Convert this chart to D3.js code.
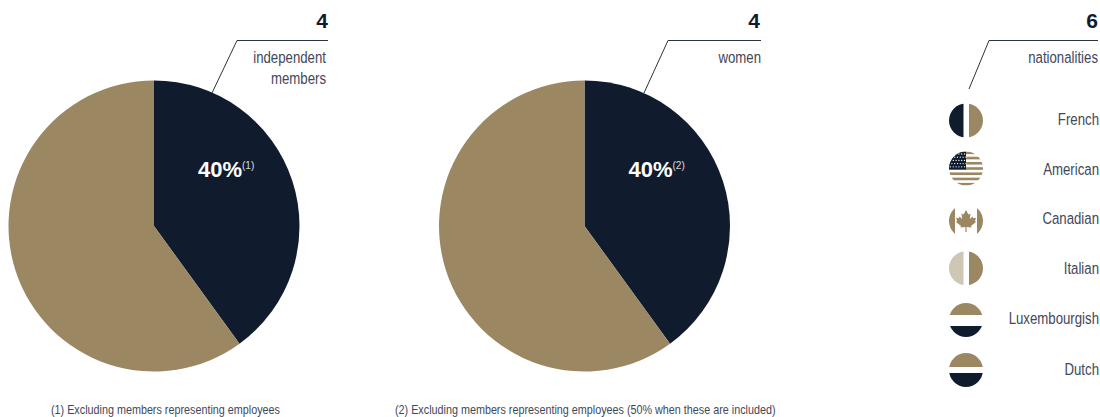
<!DOCTYPE html>
<html>
<head>
<meta charset="utf-8">
<script src="https://cdnjs.cloudflare.com/ajax/libs/d3/7.8.5/d3.min.js"></script>
<style>
  html, body { margin: 0; padding: 0; background: #fff; }
  svg { display: block; }
  text { font-family: "Liberation Sans", sans-serif; fill: #3f4759; }
  .big { font-weight: 700; font-size: 21px; fill: #101c2e; }
  .lbl { font-size: 17px; }
  .note { font-size: 13px; }
  .pct { font-weight: 700; font-size: 22px; fill: #fff; }
  .sup { font-size: 11.5px; fill: #fff; fill-opacity: 0.85; }
</style>
</head>
<body>
<svg id="chart" width="1100" height="417"></svg>
<script>
const NAVY = "#101c2e", GOLD = "#9b8863", PALE = "#cfc7b6";

// Pie shares and their captions
const sliceNames = ["Included", "Other"];
const independentValues = [40, 60];
const womenValues = [40, 60];
const pieCounts = ["4", "4"];
const pieCaptions = [["independent", "members"], ["women"]];
const pieSupers = ["(1)", "(2)"];
const footnotes = [
  "(1) Excluding members representing employees",
  "(2) Excluding members representing employees (50% when these are included)"
];

// Nationalities list
const nationalityCount = "6";
const nationalityCaption = "nationalities";
const nationalities = ["French", "American", "Canadian", "Italian", "Luxembourgish", "Dutch"];
const flagKinds = ["verticalNavy", "stars", "leaf", "verticalPale", "horizontalGap", "horizontalBar"];

// Vertical rhythm of the list
const flagCentres = [120.5, 168.5, 221, 268.3, 320, 370];
const labelBaselines = [125, 175, 224, 274, 324, 375];

// The captions are set in a condensed cut, obtained by squeezing the regular face
const SQUEEZE = 0.778;
const NOTE_SQUEEZE = 0.83;

const svg = d3.select("#chart");
const defs = svg.append("defs");
const color = d3.scaleOrdinal(sliceNames, [NAVY, GOLD]);
const pieLayout = d3.pie().sort(null);
const radius = 145.5;
const arc = d3.arc().innerRadius(0).outerRadius(radius);

function squeezedText(cls, x, y, str, anchor, k) {
  return svg.append("text").attr("class", cls)
    .attr("transform", `translate(${x},${y}) scale(${k},1)`)
    .attr("text-anchor", anchor).text(str);
}

// One pie with its callout
function drawPie(values, cx, i, leader, countRight, captionRight) {
  const g = svg.append("g").attr("transform", `translate(${cx},226)`);
  g.selectAll("path").data(pieLayout(values)).join("path")
    .attr("d", arc)
    .attr("fill", (d, j) => color(sliceNames[j]));
  g.append("text").attr("class", "pct").attr("x", 44).attr("y", -49).text(values[0] + "%");
  g.append("text").attr("class", "sup").attr("transform", "translate(88,-57) scale(0.88,1)").text(pieSupers[i]);
  drawCallout(leader, pieCounts[i], pieCaptions[i], countRight, captionRight);
}

function drawCallout(leader, count, captions, countRight, captionRight) {
  svg.append("path").attr("d", d3.line()(leader))
    .attr("fill", "none").attr("stroke", "#2b3342").attr("stroke-width", 1);
  svg.append("text").attr("class", "big").attr("x", countRight).attr("y", 28)
    .attr("text-anchor", "end").text(count);
  captions.forEach((c, k) => {
    squeezedText("lbl", captionRight, 63 + k * 21, c, "end", SQUEEZE);
  });
}

drawPie(independentValues, 154, 0, [[212, 93], [237, 40.5], [328, 40.5]], 328, 326);
drawPie(womenValues, 584.5, 1, [[644, 93], [668, 40.5], [761, 40.5]], 760, 761);
drawCallout([[969, 89], [989, 40.5], [1098, 40.5]], nationalityCount, [nationalityCaption], 1098, 1098);

// Footnotes
squeezedText("note", 51, 414, footnotes[0], "start", NOTE_SQUEEZE);
squeezedText("note", 395, 414, footnotes[1], "start", NOTE_SQUEEZE);

// Flag icons, each clipped to a circle
const flagR = 17, flagX = 966;
defs.append("clipPath").attr("id", "disc").append("circle").attr("r", flagR);

const flagPainters = {
  verticalNavy: g => halves(g, NAVY, GOLD),
  verticalPale: g => halves(g, PALE, GOLD),
  horizontalGap: g => {
    g.append("rect").attr("x", -flagR).attr("y", -flagR).attr("width", 34).attr("height", 12).attr("fill", GOLD);
    g.append("rect").attr("x", -flagR).attr("y", 6).attr("width", 34).attr("height", 11).attr("fill", NAVY);
  },
  horizontalBar: g => {
    g.append("rect").attr("x", -flagR).attr("y", -flagR).attr("width", 34).attr("height", 14).attr("fill", GOLD);
    g.append("rect").attr("x", -flagR).attr("y", 3).attr("width", 34).attr("height", 14).attr("fill", NAVY);
  },
  leaf: g => {
    g.append("rect").attr("x", -flagR).attr("y", -flagR).attr("width", 6).attr("height", 34).attr("fill", GOLD);
    g.append("rect").attr("x", 11).attr("y", -flagR).attr("width", 6).attr("height", 34).attr("fill", GOLD);
    g.append("path").attr("fill", GOLD)
      .attr("d", "M0,-11 L2.5,-6.5 L4.5,-7.5 L3.8,-2 L6.5,-4.5 L7.3,-2.8 L10,-3.2 L9,0 L10,1 L5,5 L5.6,6.6 L0.6,6 L0.6,11 L-0.6,11 L-0.6,6 L-5.6,6.6 L-5,5 L-10,1 L-9,0 L-10,-3.2 L-7.3,-2.8 L-6.5,-4.5 L-3.8,-2 L-4.5,-7.5 L-2.5,-6.5 Z");
  },
  stars: g => {
    const rows = d3.range(13);
    const h = 34 / 13;
    g.selectAll(".stripe").data(rows.filter(r => r % 2 === 0)).join("rect")
      .attr("x", -flagR).attr("width", 34).attr("y", r => -flagR + r * h).attr("height", h).attr("fill", GOLD);
    g.append("rect").attr("x", -flagR).attr("y", -flagR).attr("width", 17).attr("height", 18).attr("fill", NAVY);
    const cols = d3.range(6), lines = d3.range(5);
    lines.forEach(l => cols.forEach(c => {
      g.append("circle").attr("cx", -15.5 + c * 2.8 + (l % 2 ? 1.4 : 0)).attr("cy", -14.5 + l * 3.2)
        .attr("r", 0.65).attr("fill", "#fff");
    }));
  }
};

function halves(g, left, right) {
  g.append("rect").attr("x", -flagR).attr("y", -flagR).attr("width", 14.5).attr("height", 34).attr("fill", left);
  g.append("rect").attr("x", 3).attr("y", -flagR).attr("width", 14).attr("height", 34).attr("fill", right);
}

nationalities.forEach((name, i) => {
  const g = svg.append("g").attr("transform", `translate(${flagX},${flagCentres[i]})`);
  const inner = g.append("g").attr("clip-path", "url(#disc)");
  flagPainters[flagKinds[i]](inner);
  squeezedText("lbl", 1099, labelBaselines[i], name, "end", SQUEEZE);
});
</script>
</body>
</html>
